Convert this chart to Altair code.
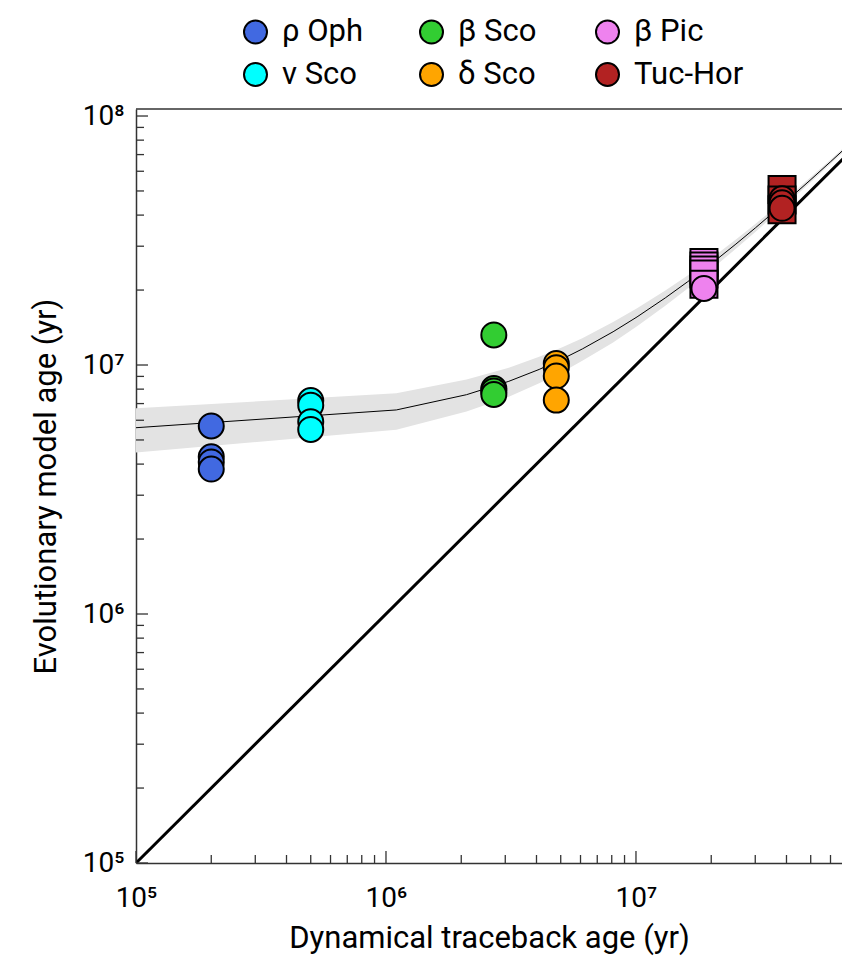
import altair as alt
import pandas as pd

# ---- measured ages (yr) ----
groups = ["ρ Oph", "ν Sco", "β Sco", "δ Sco", "β Pic", "Tuc-Hor"]
colors = ["royalblue", "cyan", "limegreen", "orange", "violet", "firebrick"]
dyn_age = [2.0e5, 5.0e5, 2.7e6, 4.8e6, 1.87e7, 3.84e7]

# evolutionary model ages per group, circles
circle_ages = [
    [5.69e6, 4.28e6, 4.08e6, 3.82e6],          # ρ Oph
    [7.2e6, 6.9e6, 5.92e6, 5.51e6],            # ν Sco
    [1.32e7, 8.05e6, 7.87e6, 7.62e6],          # β Sco
    [1.014e7, 9.75e6, 9.03e6, 7.23e6],         # δ Sco
    [2.03e7],                                   # β Pic
    [4.65e7, 4.48e7, 4.26e7],                   # Tuc-Hor
]
# additional estimates, squares
square_ages = [
    [], [], [], [],
    [2.58e7, 2.50e7, 2.41e7, 2.32e7, 2.11e7],   # β Pic
    [5.07e7, 4.6e7, 4.2e7],                     # Tuc-Hor
]

# fitted relation with its uncertainty band
fit_t = [1e5, 1.1e6, 2.1e6, 3.1e6, 4.1e6, 5.1e6, 6.1e6, 8.1e6, 1.01e7, 1.31e7,
         1.61e7, 2.01e7, 2.51e7, 3.01e7, 4.01e7, 5.01e7, 6.01e7, 7.01e7]
fit_mid = [5.6e6, 6.6e6, 7.6e6, 8.6e6, 9.6e6, 1.06e7, 1.16e7, 1.36e7, 1.56e7, 1.86e7,
           2.16e7, 2.56e7, 3.06e7, 3.56e7, 4.56e7, 5.56e7, 6.56e7, 7.56e7]
fit_lo = [4.45e6, 5.5e6, 6.5e6, 7.45e6, 8.45e6, 9.4e6, 1.04e7, 1.23e7, 1.43e7, 1.73e7,
          2.03e7, 2.43e7, 2.93e7, 3.43e7, 4.43e7, 5.43e7, 6.43e7, 7.43e7]
fit_hi = [6.7e6, 7.7e6, 8.75e6, 9.75e6, 1.08e7, 1.18e7, 1.28e7, 1.49e7, 1.69e7, 1.99e7,
          2.29e7, 2.69e7, 3.19e7, 3.69e7, 4.69e7, 5.69e7, 6.69e7, 7.69e7]

# one-to-one line
diag = [1e5, 1e8]

# axis ticks
major_x = [1e5, 1e6, 1e7]
major_y = [1e5, 1e6, 1e7, 1e8]
mantissas = [2, 3, 4, 5, 6, 7, 8, 9]
minor_x = [m * d for d in [1e5, 1e6, 1e7] for m in mantissas if m * d < 6.6e7]
minor_y = [m * d for d in [1e5, 1e6, 1e7] for m in mantissas]

X_MAX = 6.67e7
Y_MAX = 1.067e8
W, H = 706, 754
FONT = "Roboto"
LABEL_SIZE = 28
TITLE_SIZE = 31

rows = []
for g, t, sq in zip(groups, dyn_age, square_ages):
    for a in sq:
        rows.append({"group": g, "x": t, "y": a, "marker": "square"})
for g, t, ci in zip(groups, dyn_age, circle_ages):
    for a in ci:
        rows.append({"group": g, "x": t, "y": a, "marker": "circle"})
points = pd.DataFrame(rows)

fit = pd.DataFrame({"x": fit_t, "y": fit_mid, "lo": fit_lo, "hi": fit_hi})
one_to_one = pd.DataFrame({"x": diag, "y": diag})

sup = {5: "⁵", 6: "⁶", 7: "⁷", 8: "⁸"}
label_expr = " : ".join(
    f"datum.value == {10**e} ? '10{s}'" for e, s in sup.items()
) + " : ''"

xscale = alt.Scale(type="log", domain=[1e5, X_MAX], nice=False)
yscale = alt.Scale(type="log", domain=[1e5, Y_MAX], nice=False)

axis_style = dict(
    labelExpr=label_expr, ticks=False, tickSize=0, grid=False,
    domainColor="#333", domainWidth=1.5, labelFlush=False,
    labelFont=FONT, labelFontSize=LABEL_SIZE, labelColor="black",
    titleFont=FONT, titleFontSize=TITLE_SIZE, titleColor="black",
    titleFontWeight="normal",
)
xaxis = alt.Axis(values=major_x, title="Dynamical traceback age (yr)",
                 labelPadding=21, titlePadding=11, **axis_style)
yaxis = alt.Axis(values=major_y, title="Evolutionary model age (yr)",
                 labelPadding=12, titlePadding=20, **axis_style)

X = alt.X("x:Q", scale=xscale, axis=xaxis)
Y = alt.Y("y:Q", scale=yscale, axis=yaxis)

band = alt.Chart(fit).mark_area(color="#e3e3e3", opacity=1, clip=True).encode(
    x=X, y=Y, y2="hi:Q"
).transform_calculate(y="datum.lo")

curve = alt.Chart(fit).mark_line(color="black", strokeWidth=1, clip=True).encode(x=X, y=Y)

line11 = alt.Chart(one_to_one).mark_line(color="black", strokeWidth=3, clip=True).encode(x=X, y=Y)

pts = alt.Chart(points).mark_point(filled=True, opacity=1, stroke="black",
                                   strokeWidth=2, strokeOpacity=1).encode(
    x=X, y=Y,
    fill=alt.Fill("group:N",
                  scale=alt.Scale(domain=groups, range=colors),
                  legend=alt.Legend(
                      orient="none", legendX=104, legendY=-93, columns=3,
                      title=None, labelFont=FONT, labelFontSize=31,
                      labelColor="black", symbolSize=530, symbolType="circle",
                      symbolStrokeColor="black", symbolStrokeWidth=2,
                      labelOffset=11, columnPadding=23, rowPadding=10,
                      gridAlign="all", padding=0, labelLimit=0,
                      values=groups,
                      labelExpr="datum.label == 'β Pic' ? '\u00a0β Pic' : datum.label",
                  )),
    shape=alt.Shape("marker:N", scale=alt.Scale(domain=["circle", "square"],
                                                 range=["circle", "square"]),
                    legend=None),
    size=alt.Size("marker:N", scale=alt.Scale(domain=["circle", "square"],
                                               range=[625, 729]),
                  legend=None),
    order=alt.Order("rank:Q"),
).transform_calculate(rank="datum.marker == 'square' ? 0 : 1")

# inward-pointing ticks
tick_style = dict(color="#333", strokeWidth=1.3)
xt_major = alt.Chart(pd.DataFrame({"x": major_x})).mark_rule(**tick_style).encode(
    x=X, y=alt.value(H), y2=alt.value(H - 12))
xt_minor = alt.Chart(pd.DataFrame({"x": minor_x})).mark_rule(**tick_style).encode(
    x=X, y=alt.value(H), y2=alt.value(H - 8))
yt_major = alt.Chart(pd.DataFrame({"y": major_y})).mark_rule(**tick_style).encode(
    y=Y, x=alt.value(0), x2=alt.value(12))
yt_minor = alt.Chart(pd.DataFrame({"y": minor_y})).mark_rule(**tick_style).encode(
    y=Y, x=alt.value(0), x2=alt.value(8))

# frame line along the top
top_edge = alt.Chart(pd.DataFrame({"k": [0]})).mark_rule(color="#333", strokeWidth=1.5).encode(
    y=alt.value(0), x=alt.value(0), x2=alt.value(W))

chart = alt.layer(
    band, curve, line11, xt_major, xt_minor, yt_major, yt_minor, top_edge, pts
).properties(
    width=W, height=H,
    background="white",
    autosize=alt.AutoSizeParams(type="none"),
    padding={"left": 136, "top": 109, "right": 0, "bottom": 95},
).configure_view(stroke=None)

chart.save("out.html", embed_options={"renderer": "svg", "actions": False})
